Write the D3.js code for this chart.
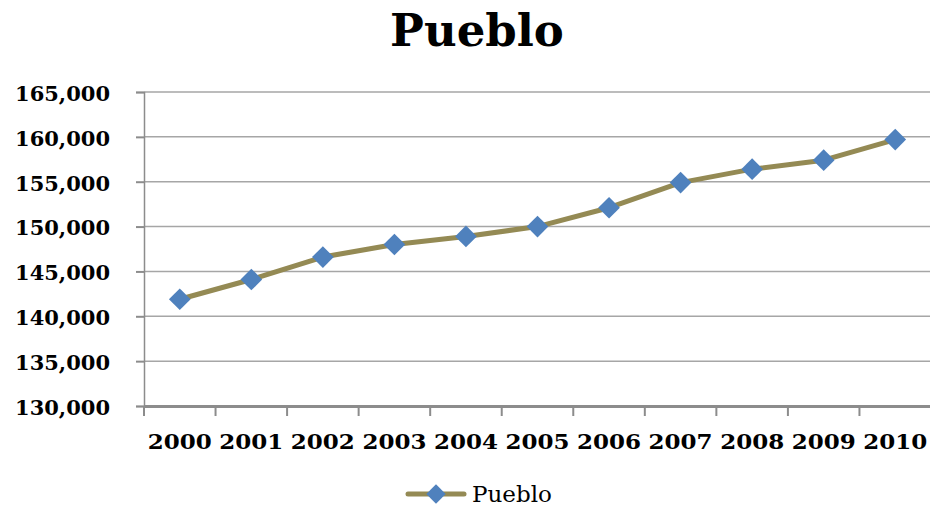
<!DOCTYPE html>
<html>
<head>
<meta charset="utf-8">
<script src="https://cdn.jsdelivr.net/npm/d3@7"></script>
<style>
  html, body { margin:0; padding:0; background:#fff; }
  svg text { font-family:"DejaVu Serif", serif; fill:#000; }
</style>
</head>
<body>
<svg id="chart" width="930" height="512"></svg>
<script>
const years = ['2000','2001','2002','2003','2004','2005','2006','2007','2008','2009','2010'];
const population = [141900,144100,146600,148000,148900,150000,152100,154900,156400,157400,159700];
const yTicks = [130000,135000,140000,145000,150000,155000,160000,165000];
const seriesName = 'Pueblo';

const svg = d3.select('#chart');
const plotLeft = 144, plotRight = 931, plotTop = 92, plotBottom = 406;

const x = d3.scaleBand().domain(years).range([plotLeft, plotRight]).padding(0);
const y = d3.scaleLinear().domain([130000,165000]).range([plotBottom, plotTop]);

// title
svg.append('text')
    .attr('x', 477).attr('y', 46)
    .attr('text-anchor','middle')
    .attr('font-size', 45).attr('font-weight','bold')
    .text('Pueblo');

// gridlines
svg.append('g')
    .selectAll('line')
    .data(yTicks)
    .join('line')
    .attr('x1', plotLeft).attr('x2', plotRight)
    .attr('y1', d => y(d)).attr('y2', d => y(d))
    .attr('stroke', '#a6a6a6').attr('stroke-width', 1.5);

// y axis
const yAxis = svg.append('g')
    .attr('transform', `translate(${plotLeft},0)`)
    .call(d3.axisLeft(y).tickValues(yTicks).tickFormat(d3.format(',')).tickSize(8).tickPadding(26));
yAxis.select('.domain').attr('stroke','#8c8c8c').attr('stroke-width',1.5);
yAxis.selectAll('.tick line').attr('stroke','#8c8c8c').attr('stroke-width',2);
yAxis.selectAll('.tick text')
    .attr('font-size', 21).attr('font-weight','bold')
    .style('font-family','"DejaVu Serif", serif')
    .attr('dy','0.4em');

// x axis
const xAxis = svg.append('g')
    .attr('transform', `translate(0,${plotBottom})`)
    .call(d3.axisBottom(x).tickSize(0).tickPadding(28));
xAxis.select('.domain').attr('stroke','#8c8c8c').attr('stroke-width',3);
xAxis.selectAll('.tick text')
    .attr('font-size', 21).attr('font-weight','bold')
    .style('font-family','"DejaVu Serif", serif')
    .attr('textLength', 64).attr('lengthAdjust','spacingAndGlyphs');

const bounds = years.map(d => x(d)).concat([x(years[years.length-1]) + x.bandwidth()]);
xAxis.append('g')
    .selectAll('line')
    .data(bounds)
    .join('line')
    .attr('x1', d => d).attr('x2', d => d)
    .attr('y1', 0).attr('y2', 10)
    .attr('stroke','#8c8c8c').attr('stroke-width',2);

// series line
const line = d3.line()
    .x((d,i) => x(years[i]) + x.bandwidth()/2)
    .y(d => y(d));

svg.append('path')
    .datum(population)
    .attr('d', line)
    .attr('fill','none')
    .attr('stroke','#948a54')
    .attr('stroke-width',5)
    .attr('stroke-linejoin','round');

const diamond = d3.symbol().type(d3.symbolDiamond2).size(300);
svg.append('g')
    .selectAll('path')
    .data(population)
    .join('path')
    .attr('transform', (d,i) => `translate(${x(years[i]) + x.bandwidth()/2},${y(d)})`)
    .attr('d', diamond)
    .attr('fill','#4f81bd');

// legend
const legend = svg.append('g').attr('transform','translate(408,494)');
legend.append('line')
    .attr('x1',0).attr('x2',56).attr('y1',0).attr('y2',0)
    .attr('stroke','#948a54').attr('stroke-width',5).attr('stroke-linecap','round');
legend.append('path')
    .attr('transform','translate(28,0)')
    .attr('d', d3.symbol().type(d3.symbolDiamond2).size(240))
    .attr('fill','#4f81bd');
legend.append('text')
    .attr('x', 64).attr('y', 8)
    .attr('font-size', 22)
    .attr('textLength', 80).attr('lengthAdjust','spacingAndGlyphs')
    .text(seriesName);
</script>
</body>
</html>
